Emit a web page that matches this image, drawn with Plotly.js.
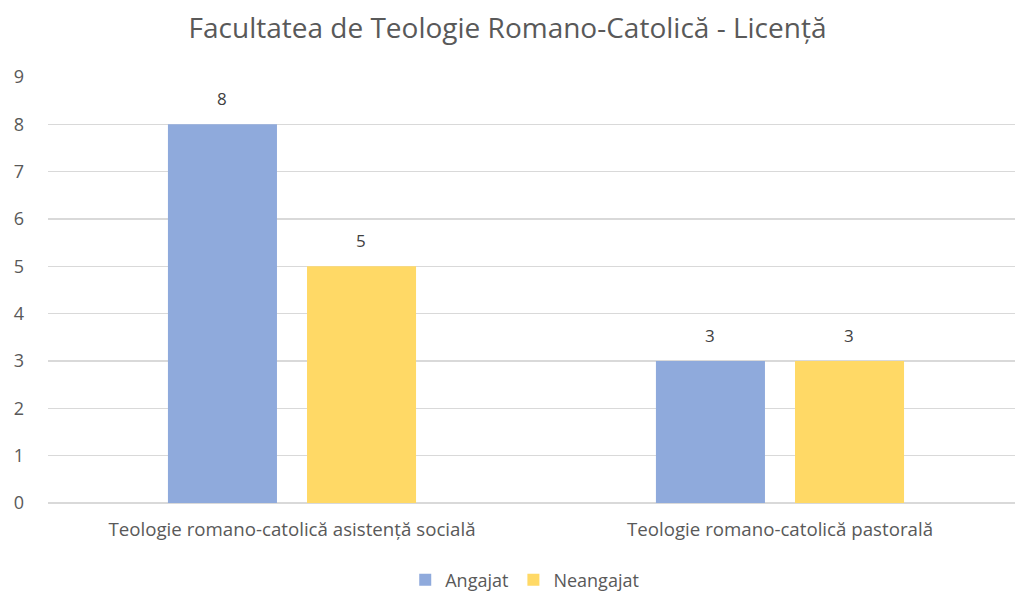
<!DOCTYPE html>
<html><head><meta charset="utf-8">
<script src="https://cdn.plot.ly/plotly-3.0.1.min.js"></script>
<style>html,body{margin:0;padding:0;background:#fff}#chart{width:1015px;height:594px}</style>
</head><body><div id="chart"></div>
<script>
const categories = ["Teologie romano-catolică asistență socială", "Teologie romano-catolică pastorală"];
const seriesNames = ["Angajat", "Neangajat"];
const angajat = [8, 3];
const neangajat = [5, 3];
const yTicks = [0,1,2,3,4,5,6,7,8,9];
const colors = ["#8FAADC", "#FFD966"];
const font = "Open Sans, Noto Sans, sans-serif";
const series = [angajat, neangajat];

const traces = series.map((vals, i) => ({
  type: "bar", name: seriesNames[i], x: categories, y: vals,
  marker: {color: colors[i]},
  hoverinfo: "none"
}));

// data labels placed via the axes, offset to each bar's slot within the group
const offsets = [-69.5, 69.5];
const annotations = [];
series.forEach((vals, i) => vals.forEach((v, j) => annotations.push({
  x: categories[j], y: v, xref: "x", yref: "y", text: String(v), showarrow: false,
  xanchor: "center", yanchor: "bottom", xshift: offsets[i], yshift: 12,
  font: {family: font, size: 17, color: "#404040"}
})));

Plotly.newPlot("chart", traces, {
  width: 1015, height: 594,
  margin: {l: 48, r: 0, t: 77, b: 91, autoexpand: false},
  paper_bgcolor: "#fff", plot_bgcolor: "#fff",
  title: {text: "Facultatea de Teologie Romano-Catolică - Licență", font: {family: font, size: 28, color: "#595959"}, x: 0.5, xanchor: "center", y: 0.953, yanchor: "middle"},
  barmode: "group", bargap: 0.43, bargroupgap: 0.216,
  annotations: annotations,
  xaxis: {range: [-0.5, 1.4816], showgrid: false, zeroline: false, showline: false, ticks: "",
    tickfont: {family: font, size: 18.7, color: "#595959"}, ticklabelstandoff: 13, fixedrange: true, automargin: false},
  yaxis: {range: [0, 9], tickvals: yTicks, ticktext: yTicks.map(String), showgrid: true, gridcolor: "#D9D9D9", gridwidth: 1.3,
    zeroline: true, zerolinecolor: "#D9D9D9", zerolinewidth: 1.3, showline: false, ticks: "",
    tickfont: {family: font, size: 18, color: "#595959"}, ticklabelstandoff: 23, fixedrange: true, automargin: false},
  legend: {orientation: "h", x: 0.493, xanchor: "center", y: -0.181, yanchor: "middle", xref: "paper",
    font: {family: font, size: 18, color: "#595959"}, itemwidth: 30, traceorder: "normal"},
  showlegend: true
}, {displayModeBar: false, staticPlot: true});
</script></body></html>
